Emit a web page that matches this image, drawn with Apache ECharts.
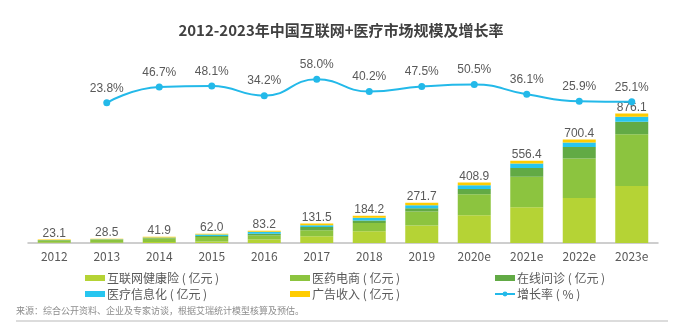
<!DOCTYPE html>
<html lang="zh">
<head>
    <meta charset="utf-8" />
    <title>2012-2023年中国互联网+医疗市场规模及增长率</title>
    <script src="https://cdn.jsdelivr.net/npm/echarts/dist/echarts.min.js"></script>
    <style>
        html, body { margin: 0; padding: 0; background: #fff; }
        #main { width: 682px; height: 325px; }
    </style>
</head>
<body>
    <div id="main"></div>
    <script type="text/javascript">
        // 数据
        var years = ['2012', '2013', '2014', '2015', '2016', '2017', '2018', '2019', '2020e', '2021e', '2022e', '2023e'];
        var insurance = [3, 4, 6, 10, 23, 45, 79, 119, 187, 241, 305, 386];       // 互联网健康险
        var pharmacy = [14, 16, 24, 30, 27, 41, 56, 94, 142, 207, 266, 350];      // 医药电商
        var consult = [2.5, 3, 5, 8, 13, 23, 18, 22.5, 36, 58.8, 77.8, 83.5];     // 在线问诊
        var informatization = [1.6, 2.5, 3, 9, 13.2, 11.5, 18.2, 20.5, 25, 31.6, 31.6, 34]; // 医疗信息化
        var advertising = [2, 3, 3.9, 5, 7, 11, 13, 15.7, 18.9, 18, 20, 22.6];    // 广告收入
        var totals = ['23.1', '28.5', '41.9', '62.0', '83.2', '131.5', '184.2', '271.7', '408.9', '556.4', '700.4', '876.1'];
        var growth = ['-', 23.8, 46.7, 48.1, 34.2, 58.0, 40.2, 47.5, 50.5, 36.1, 25.9, 25.1];

        var labelColor = '#595959';
        var font = '"Noto Sans CJK SC", "Microsoft YaHei", sans-serif';
        var numFont = '"Liberation Sans", Arial, sans-serif';

        var myChart = echarts.init(document.getElementById('main'));

        function barSeries(name, data, color) {
            return {
                name: name,
                type: 'bar',
                stack: 'total',
                barWidth: 33,
                data: data,
                itemStyle: { color: color },
                emphasis: { disabled: true }
            };
        }

        var series = [
            barSeries('互联网健康险 ( 亿元 )', insurance, '#b5d335'),
            barSeries('医药电商 ( 亿元 )', pharmacy, '#8cc43f'),
            barSeries('在线问诊 ( 亿元 )', consult, '#62aa45'),
            barSeries('医疗信息化 ( 亿元 )', informatization, '#27c6f0'),
            barSeries('广告收入 ( 亿元 )', advertising, '#ffcc00'),
            {
                name: '增长率 ( % )',
                type: 'line',
                yAxisIndex: 1,
                smooth: true,
                data: growth,
                symbol: 'circle',
                symbolSize: 7,
                lineStyle: { color: '#23b9e9', width: 2 },
                itemStyle: { color: '#23b9e9' },
                label: {
                    show: true,
                    position: 'top',
                    color: labelColor,
                    fontSize: 12,
                    fontFamily: numFont,
                    formatter: function (p) { return p.value.toFixed(1) + '%'; }
                }
            }
        ];
        // 总量标在最上层
        series[4].label = {
            show: true,
            position: 'top',
            distance: 0,
            color: labelColor,
            fontSize: 12,
            fontFamily: numFont,
            formatter: function (p) { return totals[p.dataIndex]; }
        };

        var legendBase = {
            orient: 'vertical',
            top: 266,
            itemWidth: 20,
            itemHeight: 6,
            itemGap: 2,
            textStyle: { color: labelColor, fontSize: 12, lineHeight: 14, fontFamily: font, padding: [0, 0, 0, -3] },
            selectedMode: false
        };

        var option = {
            animation: false,
            title: {
                text: '2012-2023年中国互联网+医疗市场规模及增长率',
                left: 'center',
                top: 18,
                textStyle: { color: '#404040', fontSize: 15, fontWeight: 'bold', fontFamily: font }
            },
            grid: { left: 28, right: 24, top: 70, bottom: 82 },
            legend: [
                Object.assign({}, legendBase, { left: 80, data: [
                    { name: '互联网健康险 ( 亿元 )', icon: 'rect' },
                    { name: '医疗信息化 ( 亿元 )', icon: 'rect' }] }),
                Object.assign({}, legendBase, { left: 285, data: [
                    { name: '医药电商 ( 亿元 )', icon: 'rect' },
                    { name: '广告收入 ( 亿元 )', icon: 'rect' }] }),
                Object.assign({}, legendBase, { left: 489, data: [
                    { name: '在线问诊 ( 亿元 )', icon: 'rect' },
                    { name: '增长率 ( % )' }] })
            ],
            xAxis: {
                type: 'category',
                data: years,
                axisLine: { lineStyle: { color: '#bfbfbf', width: 1.5 } },
                axisTick: { show: false },
                axisLabel: { color: labelColor, fontSize: 12, fontFamily: font, margin: 7 }
            },
            yAxis: [
                { type: 'value', min: 0, max: 1170, show: false, splitLine: { show: false } },
                { type: 'value', min: -180.8, max: 71.6, show: false, splitLine: { show: false } }
            ],
            graphic: [
                {
                    type: 'text',
                    left: 16,
                    top: 306,
                    style: {
                        text: '来源：综合公开资料、企业及专家访谈，根据艾瑞统计模型核算及预估。',
                        fill: '#8c8c8c',
                        fontSize: 9,
                        fontFamily: font
                    }
                },
                {
                    type: 'line',
                    shape: { x1: 16, y1: 321, x2: 668, y2: 321 },
                    style: { stroke: '#d0d0d0', lineWidth: 1.5 }
                }
            ],
            series: series
        };

        myChart.setOption(option);

        window.onresize = function () {
            myChart.resize();
        };
    </script>
</body>
</html>
